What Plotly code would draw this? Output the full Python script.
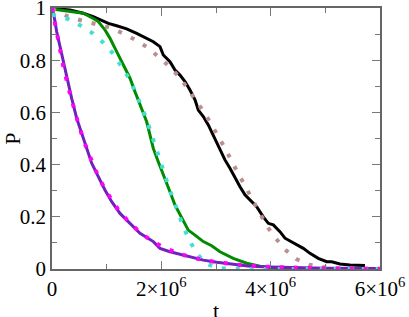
import numpy as np
import plotly.graph_objects as go

# times in units of 1e6
t_black = [0, 0.024, 0.329, 0.573, 0.755, 0.878, 1.03, 1.183, 1.366, 1.549, 1.732, 1.853, 1.976, 2.036,
           2.158, 2.25, 2.341, 2.433, 2.524, 2.616, 2.676, 2.768, 2.859, 2.951, 3.013, 3.104, 3.164, 3.256,
           3.347, 3.439, 3.53, 3.622, 3.744, 3.865, 3.957, 4.048, 4.17, 4.262, 4.414, 4.597, 4.719, 4.871,
           5.025, 5.116, 5.268, 5.451, 5.725]
p_black = [1.0, 0.999, 0.992, 0.98, 0.967, 0.954, 0.941, 0.932, 0.92, 0.903, 0.884, 0.871, 0.852, 0.82,
           0.794, 0.762, 0.743, 0.718, 0.686, 0.648, 0.609, 0.584, 0.552, 0.513, 0.488, 0.449, 0.418, 0.386,
           0.348, 0.315, 0.284, 0.264, 0.239, 0.2, 0.175, 0.169, 0.143, 0.118, 0.101, 0.079, 0.06, 0.041,
           0.028, 0.028, 0.019, 0.015, 0.013]

t_rosy = [0, 0.298, 0.543, 0.81, 1.061, 1.293, 1.536, 1.761, 1.963, 2.158, 2.341, 2.493, 2.647, 2.786,
          2.921, 3.06, 3.183, 3.305, 3.426, 3.549, 3.682, 3.805, 3.938, 4.092, 4.262, 4.463, 4.701, 4.963,
          5.3, 6.0]
p_rosy = [0.995, 0.967, 0.952, 0.94, 0.925, 0.903, 0.877, 0.847, 0.812, 0.774, 0.733, 0.689, 0.645, 0.599,
          0.552, 0.503, 0.456, 0.405, 0.357, 0.309, 0.258, 0.21, 0.162, 0.118, 0.075, 0.039, 0.016, 0.008,
          0.002, 0.0]

t_green = [0, 0.329, 0.573, 0.755, 0.847, 0.969, 1.061, 1.183, 1.304, 1.427, 1.518, 1.61, 1.732, 1.793,
           1.853, 1.944, 2.067, 2.158, 2.25, 2.372, 2.493, 2.616, 2.768, 2.921, 3.073, 3.316, 3.561, 3.805,
           4.08, 6.0]
p_green = [0.996, 0.986, 0.98, 0.96, 0.948, 0.916, 0.884, 0.833, 0.782, 0.731, 0.679, 0.628, 0.564, 0.513,
           0.462, 0.411, 0.348, 0.296, 0.245, 0.194, 0.149, 0.13, 0.105, 0.089, 0.066, 0.041, 0.022, 0.011,
           0.002, 0.0]

t_turq = [0, 0.29, 0.52, 0.745, 0.94, 1.125, 1.262, 1.408, 1.518, 1.622, 1.719, 1.8, 1.884, 1.976, 2.049,
          2.127, 2.219, 2.31, 2.402, 2.511, 2.634, 2.799, 3.042, 3.44, 6.0]
p_turq = [0.975, 0.958, 0.933, 0.903, 0.867, 0.824, 0.778, 0.731, 0.682, 0.631, 0.58, 0.529, 0.478, 0.424,
          0.37, 0.319, 0.264, 0.211, 0.162, 0.111, 0.064, 0.022, 0.003, 0.0, 0.0]

t_purple = [0, 0.024, 0.086, 0.177, 0.269, 0.36, 0.452, 0.573, 0.634, 0.726, 0.847, 0.969, 1.092, 1.244,
            1.427, 1.61, 1.853, 1.976, 2.158, 2.524, 2.768, 3.013, 3.378, 3.622, 3.988, 4.5, 5.0, 6.0]
p_purple = [1.0, 0.986, 0.909, 0.82, 0.731, 0.654, 0.577, 0.501, 0.456, 0.405, 0.354, 0.303, 0.258, 0.213,
            0.175, 0.137, 0.105, 0.079, 0.066, 0.047, 0.034, 0.026, 0.018, 0.011, 0.008, 0.005, 0.003, 0.002]

t_magenta = [0, 0.1, 0.2, 0.3, 0.4, 0.5, 0.6, 0.7, 0.8, 0.9, 1.0, 1.2, 1.4, 1.6, 1.8, 2.0, 2.3, 2.6, 3.0,
             3.5, 4.0, 5.0, 6.0]
p_magenta = [1.0, 0.885, 0.784, 0.694, 0.614, 0.543, 0.481, 0.426, 0.377, 0.333, 0.295, 0.231, 0.181, 0.142,
             0.111, 0.087, 0.06, 0.042, 0.026, 0.014, 0.008, 0.002, 0.001]

xticks = [0, 2e6, 4e6, 6e6]
xticklabels = ["0", "2×10<sup>6</sup>", "4×10<sup>6</sup>", "6×10<sup>6</sup>"]
yticks = [0, 0.2, 0.4, 0.6, 0.8, 1]
yticklabels = ["0", "0.2", "0.4", "0.6", "0.8", "1"]
x_title = "t"
y_title = "P"

fig = go.Figure()

def add(t, p, color, width, dash="solid"):
    fig.add_trace(go.Scatter(x=np.array(t) * 1e6, y=p, mode="lines",
                             line=dict(color=color, width=width, dash=dash),
                             showlegend=False, hoverinfo="skip"))

add(t_black, p_black, "#000000", 3)
add(t_green, p_green, "#008b00", 3)
add(t_purple, p_purple, "#7221bc", 3)
add(t_rosy, p_rosy, "#bc8f8f", 4, "4px,10px")
add(t_turq, p_turq, "#40e0d0", 4, "4px,10px")
add(t_magenta, p_magenta, "#ff00ff", 4, "4px,10px")

FAM = "Liberation Serif"
font = dict(family=FAM, size=21, color="black")
axcommon = dict(showgrid=False, zeroline=False, showline=True, linecolor="#666", linewidth=1.5,
                mirror="allticks", ticks="inside", ticklen=8, tickwidth=1, tickcolor="#777",
                tickfont=font, automargin=False, ticklabeloverflow="allow")

fig.update_xaxes(range=[0, 6e6], tickvals=xticks, ticktext=xticklabels,
                 minor=dict(ticks="inside", ticklen=5, dtick=1e6, tickcolor="#777", showgrid=False),
                 **axcommon)
fig.update_yaxes(range=[0, 1], tickvals=yticks, ticktext=yticklabels,
                 minor=dict(ticks="inside", ticklen=5, dtick=0.1, tickcolor="#777", showgrid=False),
                 title=dict(text=y_title, font=dict(family=FAM, size=22, color="black"), standoff=0),
                 **axcommon)

fig.add_annotation(text=x_title, xref="paper", yref="paper", x=0.5, y=0, xanchor="center",
                   yanchor="middle", yshift=-41, showarrow=False,
                   font=dict(family=FAM, size=22, color="black"))

fig.update_layout(width=409, height=317, margin=dict(l=52, r=29, t=8, b=48),
                  plot_bgcolor="white", paper_bgcolor="white")

fig.write_html("out.html", config={"displayModeBar": False},
               post_script="document.body.style.margin='0';")
